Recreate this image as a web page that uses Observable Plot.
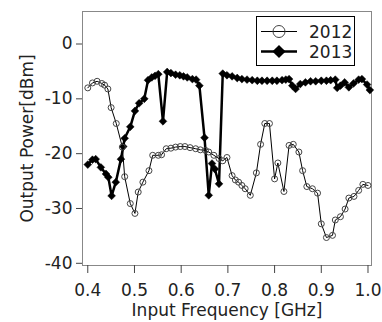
<!DOCTYPE html>
<html><head><meta charset="utf-8">
<script src="https://cdn.jsdelivr.net/npm/d3@7"></script>
<script src="https://cdn.jsdelivr.net/npm/@observablehq/plot@0.6"></script>
<style>html,body{margin:0;padding:0;background:#fff}svg{display:block}</style>
</head><body><div id="chart"></div>
<script>
const seriesNames = ["2012", "2013"];
const freq2012 = [0.400,0.410,0.420,0.430,0.436,0.443,0.450,0.461,0.474,0.479,0.491,0.501,0.508,0.518,0.531,0.539,0.551,0.558,0.568,0.578,0.588,0.598,0.608,0.619,0.631,0.641,0.652,0.659,0.670,0.681,0.689,0.698,0.709,0.716,0.723,0.730,0.737,0.748,0.761,0.770,0.779,0.789,0.800,0.807,0.820,0.831,0.840,0.852,0.860,0.869,0.881,0.892,0.900,0.911,0.924,0.930,0.941,0.951,0.959,0.970,0.980,0.989,1.000];
const power2012 = [-8.0,-7.1,-6.8,-7.2,-7.5,-8.2,-11.6,-14.5,-18.8,-24.2,-29.1,-30.9,-27.0,-25.2,-23.1,-20.3,-20.3,-20.2,-19.1,-19.0,-18.8,-18.7,-18.7,-18.9,-19.1,-19.3,-19.4,-19.7,-20.3,-20.9,-21.3,-20.7,-24.0,-24.8,-25.2,-25.8,-26.4,-27.6,-23.5,-18.3,-14.5,-14.5,-24.6,-21.7,-26.9,-18.5,-18.3,-19.7,-23.1,-26.0,-26.4,-27.2,-32.8,-35.3,-34.9,-32.1,-31.5,-30.1,-28.1,-27.8,-26.7,-25.6,-25.8];
const freq2013 = [0.400,0.410,0.417,0.428,0.439,0.444,0.451,0.460,0.471,0.476,0.479,0.491,0.501,0.510,0.521,0.529,0.537,0.544,0.551,0.561,0.570,0.578,0.588,0.597,0.605,0.613,0.624,0.632,0.639,0.650,0.659,0.666,0.672,0.681,0.689,0.698,0.709,0.720,0.730,0.741,0.752,0.763,0.773,0.784,0.795,0.805,0.816,0.824,0.831,0.838,0.845,0.855,0.866,0.877,0.888,0.900,0.911,0.920,0.930,0.934,0.941,0.950,0.959,0.969,0.980,0.987,0.998,1.004];
const power2013 = [-22.0,-21.1,-21.0,-22.5,-23.7,-24.3,-27.7,-25.2,-21.0,-18.7,-17.2,-15.1,-12.2,-10.8,-10.0,-6.6,-6.1,-5.8,-5.5,-14.1,-5.1,-5.3,-5.6,-5.7,-5.9,-6.1,-6.4,-6.5,-7.6,-17.1,-27.6,-21.8,-22.8,-25.5,-5.4,-5.7,-5.9,-6.2,-6.4,-6.5,-6.6,-6.7,-6.7,-6.7,-6.7,-6.7,-6.6,-6.5,-6.4,-7.6,-8.2,-7.3,-7.0,-6.8,-6.8,-6.7,-6.7,-6.6,-6.5,-8.0,-7.6,-7.0,-7.9,-7.2,-6.5,-6.4,-7.4,-8.4];
const xTicks = [0.4, 0.5, 0.6, 0.7, 0.8, 0.9, 1.0];
const yTicks = [0, -10, -20, -30, -40];
const xTitle = "Input Frequency [GHz]";
const yTitle = "Output Power[dBm]";

const d2012 = freq2012.map((f, i) => ({f, p: power2012[i]}));
const d2013 = freq2013.map((f, i) => ({f, p: power2013[i]}));
const font = "DejaVu Sans";

const chart = Plot.plot({
  width: 382, height: 322,
  marginLeft: 82, marginRight: 11, marginTop: 11, marginBottom: 57,
  style: {fontFamily: font, fontSize: "17px", color: "black", background: "white"},
  x: {domain: [0.3887, 1.0075]},
  y: {domain: [-40.4, 5.93]},
  marks: [
    Plot.frame({stroke: "#888", strokeWidth: 1}),
    Plot.axisX(xTicks, {tickSize: 8, tickPadding: 10, tickFormat: d3.format(".1f"), fontSize: 17, label: null, stroke: "#444", fill: "#222"}),
    Plot.axisY(yTicks, {tickSize: 6, tickPadding: 4, tickFormat: d => String(d), fontSize: 17, label: null, stroke: "#444", fill: "#222"}),
    Plot.text([yTitle], {frameAnchor: "left", dx: -55, rotate: -90, lineAnchor: "middle", textAnchor: "middle", fontSize: 17, fill: "#222"}),
    Plot.text([xTitle], {frameAnchor: "bottom", dy: 45, lineAnchor: "middle", textAnchor: "middle", fontSize: 17, fill: "#222"}),
    Plot.line(d2013, {x: "f", y: "p", stroke: "black", strokeWidth: 2.5}),
    Plot.dot(d2013, {x: "f", y: "p", symbol: "diamond2", r: 3.5, fill: "black", stroke: "black", strokeWidth: 0.5}),
    Plot.line(d2012, {x: "f", y: "p", stroke: "black", strokeWidth: 1}),
    Plot.dot(d2012, {x: "f", y: "p", r: 3, fill: "none", stroke: "#444", strokeWidth: 1})
  ]
});
document.getElementById("chart").appendChild(chart);

// legend
const svg = d3.select(chart);
const lg = svg.append("g").attr("font-family", font).attr("font-size", 17).attr("text-anchor", "start");
lg.append("rect").attr("x", 256.5).attr("y", 16.5).attr("width", 98).attr("height", 49)
  .attr("fill", "white").attr("stroke", "black").attr("stroke-width", 1);
const rows = [{name: seriesNames[0], y: 31.5}, {name: seriesNames[1], y: 51.5}];
lg.append("line").attr("x1", 261).attr("x2", 297).attr("y1", rows[0].y).attr("y2", rows[0].y).attr("stroke", "black").attr("stroke-width", 1);
lg.append("circle").attr("cx", 279).attr("cy", rows[0].y).attr("r", 6).attr("fill", "none").attr("stroke", "#444");
lg.append("line").attr("x1", 261).attr("x2", 297).attr("y1", rows[1].y).attr("y2", rows[1].y).attr("stroke", "black").attr("stroke-width", 2.5);
lg.append("path").attr("d", d3.symbol(d3.symbolDiamond2, 110)()).attr("transform", `translate(279,${rows[1].y})`).attr("fill", "black");
rows.forEach(r => lg.append("text").attr("x", 309).attr("y", r.y + 6).attr("text-anchor", "start").attr("fill", "#222").text(r.name));
</script></body></html>
